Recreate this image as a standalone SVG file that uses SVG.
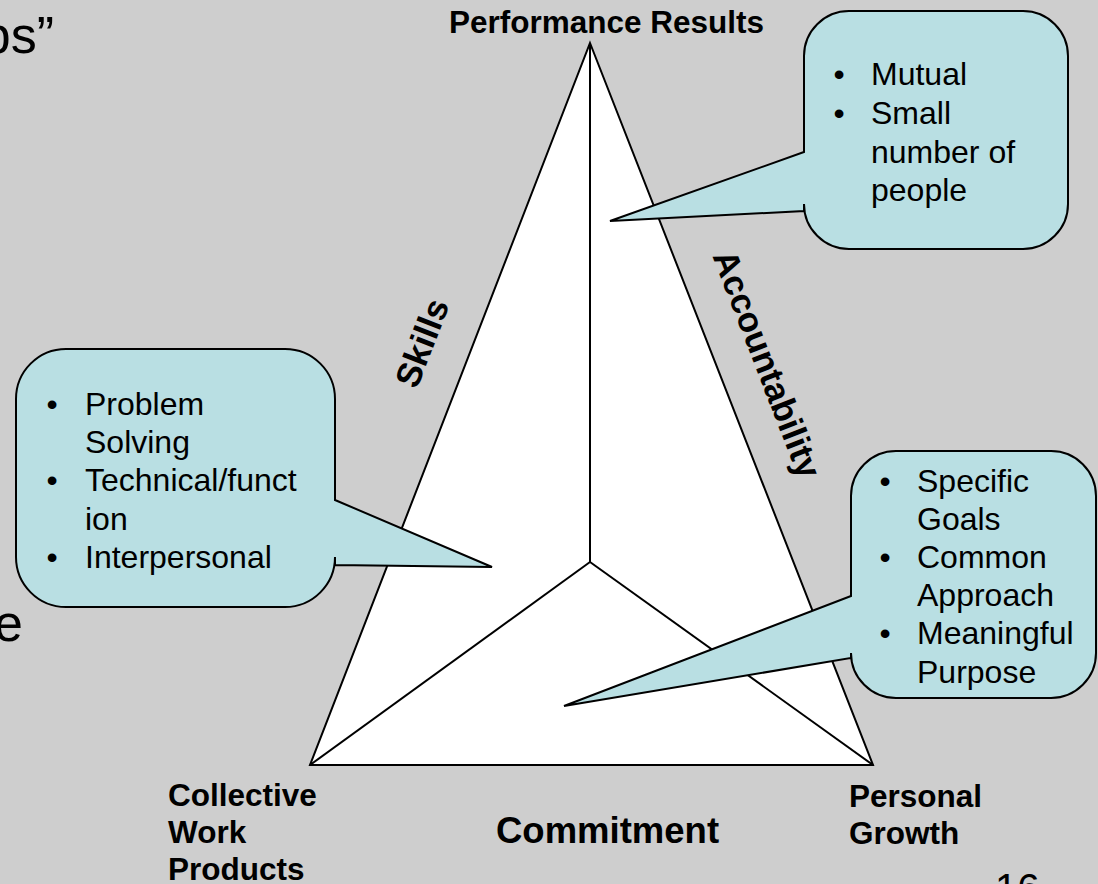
<svg xmlns="http://www.w3.org/2000/svg" width="1098" height="884" viewBox="0 0 1098 884">
<style>
.bg{fill:#cecece}
.tri{fill:#ffffff;stroke:#000;stroke-width:2;stroke-linejoin:miter}
.ln{fill:none;stroke:#000;stroke-width:2}
.call{fill:#b9dfe3;stroke:#000;stroke-width:2;stroke-linejoin:miter}
.t{font-family:"Liberation Sans",Arial,sans-serif;font-size:32px;fill:#000}
.b{font-family:"Liberation Sans",Arial,sans-serif;font-weight:bold;fill:#000}
.big{font-family:"Liberation Sans",Arial,sans-serif;font-size:52px;fill:#000}
</style>
<rect class="bg" x="0" y="0" width="1098" height="884"/>
<text class="big" x="54" y="53" text-anchor="end">ps”</text>
<text class="big" x="23" y="641" text-anchor="end">e</text>
<text class="big" x="995" y="902" style="font-size:40px">16</text>

<g id="triangle">
<polygon class="tri" points="590,43 873,765 310,765"/>
</g>
<g id="connectors">
<line class="ln" x1="590" y1="43" x2="590" y2="562"/>
<line class="ln" x1="590" y1="562" x2="310" y2="765"/>
<line class="ln" x1="590" y1="562" x2="873" y2="765"/>
</g>

<g id="label-performance"><text class="b" x="449" y="33" style="font-size:31.5px">Performance Results</text></g>
<g id="label-collective"><text class="b" style="font-size:31.5px"><tspan x="168" y="806">Collective</tspan><tspan x="168" y="843">Work</tspan><tspan x="168" y="880">Products</tspan></text></g>
<g id="label-personal"><text class="b" style="font-size:31.5px"><tspan x="849" y="807">Personal</tspan><tspan x="849" y="844">Growth</tspan></text></g>
<g id="label-commitment"><text class="b" x="496" y="843" style="font-size:36.5px">Commitment</text></g>
<g id="label-skills"><text class="b" transform="translate(422,343) rotate(-68.8)" x="0" y="12" text-anchor="middle" style="font-size:35px">Skills</text></g>
<g id="label-accountability"><text class="b" transform="translate(767,364) rotate(68.8)" x="0" y="12" text-anchor="middle" style="font-size:35px">Accountability</text></g>

<g id="callout-top">
<path class="call" d="M849,11 H1023 A45,45 0 0 1 1068,56 V204 A45,45 0 0 1 1023,249 H849 A45,45 0 0 1 804,204 V211 L610,221 L804,152 V56 A45,45 0 0 1 849,11 Z"/>
<text class="t"><tspan x="839" y="85" text-anchor="middle">•</tspan><tspan x="871" y="85">Mutual</tspan><tspan x="839" y="124" text-anchor="middle">•</tspan><tspan x="871" y="124">Small</tspan><tspan x="871" y="163">number of</tspan><tspan x="871" y="201">people</tspan></text>
</g>

<g id="callout-left">
<path class="call" d="M66,349 H285 A50,50 0 0 1 335,399 V500 L492,567 L335,565 V557 A50,50 0 0 1 285,607 H66 A50,50 0 0 1 16,557 V399 A50,50 0 0 1 66,349 Z"/>
<text class="t"><tspan x="52" y="415" text-anchor="middle">•</tspan><tspan x="85" y="415">Problem</tspan><tspan x="85" y="453">Solving</tspan><tspan x="52" y="491" text-anchor="middle">•</tspan><tspan x="85" y="491">Technical/funct</tspan><tspan x="85" y="530">ion</tspan><tspan x="52" y="568" text-anchor="middle">•</tspan><tspan x="85" y="568">Interpersonal</tspan></text>
</g>

<g id="callout-right">
<path class="call" d="M896,451 H1051 A45,45 0 0 1 1096,496 V653 A45,45 0 0 1 1051,698 H896 A45,45 0 0 1 851,653 V658 L564,706 L851,596 V496 A45,45 0 0 1 896,451 Z"/>
<text class="t"><tspan x="885" y="492" text-anchor="middle">•</tspan><tspan x="917" y="492">Specific</tspan><tspan x="917" y="530">Goals</tspan><tspan x="885" y="568" text-anchor="middle">•</tspan><tspan x="917" y="568">Common</tspan><tspan x="917" y="606">Approach</tspan><tspan x="885" y="644" text-anchor="middle">•</tspan><tspan x="917" y="644">Meaningful</tspan><tspan x="917" y="683">Purpose</tspan></text>
</g>
</svg>
